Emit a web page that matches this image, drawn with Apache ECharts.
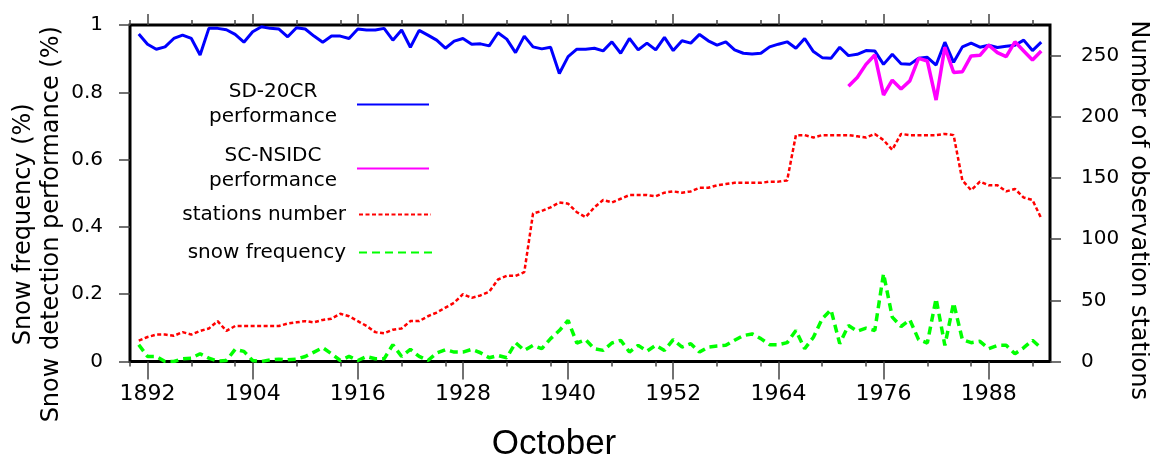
<!DOCTYPE html>
<html>
<head>
<meta charset="utf-8">
<script src="https://cdn.jsdelivr.net/npm/echarts@6/dist/echarts.min.js"></script>
<style>
html,body{margin:0;padding:0;background:#fff;}
#chart{width:1150px;height:459px;}
</style>
</head>
<body>
<div id="chart"></div>
<script>
// ---------- data ----------
const years = [1891,1892,1893,1894,1895,1896,1897,1898,1899,1900,
1901,1902,1903,1904,1905,1906,1907,1908,1909,1910,
1911,1912,1913,1914,1915,1916,1917,1918,1919,1920,
1921,1922,1923,1924,1925,1926,1927,1928,1929,1930,
1931,1932,1933,1934,1935,1936,1937,1938,1939,1940,
1941,1942,1943,1944,1945,1946,1947,1948,1949,1950,
1951,1952,1953,1954,1955,1956,1957,1958,1959,1960,
1961,1962,1963,1964,1965,1966,1967,1968,1969,1970,
1971,1972,1973,1974,1975,1976,1977,1978,1979,1980,
1981,1982,1983,1984,1985,1986,1987,1988,1989,1990,
1991,1992,1993,1994];

const sd20crPerformance = [0.973,0.943,0.928,0.935,0.960,0.970,0.960,0.911,0.990,0.990,
0.986,0.972,0.949,0.980,0.995,0.990,0.988,0.965,0.992,0.988,
0.967,0.949,0.967,0.967,0.960,0.988,0.985,0.985,0.990,0.955,
0.985,0.934,0.984,0.970,0.955,0.931,0.952,0.960,0.943,0.944,
0.938,0.977,0.958,0.918,0.967,0.935,0.929,0.934,0.856,0.906,
0.928,0.928,0.931,0.923,0.950,0.916,0.960,0.926,0.946,0.926,
0.963,0.924,0.953,0.946,0.972,0.953,0.940,0.950,0.926,0.916,
0.914,0.916,0.935,0.943,0.950,0.931,0.960,0.921,0.903,0.901,
0.934,0.909,0.913,0.924,0.923,0.883,0.913,0.885,0.883,0.901,
0.904,0.881,0.949,0.889,0.935,0.946,0.934,0.940,0.933,0.937,
0.940,0.955,0.924,0.949];

const scNsidcYears = [1972,1973,1974,1975,1976,1977,1978,1979,1980,1981,
1982,1983,1984,1985,1986,1987,1988,1989,1990,1991,1992,1993,1994];
const scNsidcPerformance = [0.818,0.844,0.883,0.911,0.792,0.836,0.810,0.834,0.901,0.893,
0.777,0.934,0.859,0.861,0.908,0.910,0.940,0.918,0.906,0.950,0.923,0.896,0.923];

const stationsNumber = [17,20,22,22,21,24,22,25,27,33,
25,29,29,29,29,29,29,31,32,33,
32,34,35,39,37,33,29,24,23,26,
27,33,33,37,40,44,48,55,52,54,
57,67,70,70,73,121,123,126,130,129,
122,118,126,132,130,133,136,136,136,135,
138,139,138,139,142,142,144,145,146,146,
146,146,147,147,148,185,185,183,185,185,
185,185,184,183,186,181,173,186,185,185,
185,185,186,185,148,140,147,144,144,139,
141,134,132,117];

const snowFrequency = [0.050,0.015,0.015,0.000,0.000,0.008,0.010,0.023,0.010,0.001,
0.003,0.036,0.030,0.003,0.000,0.005,0.007,0.005,0.007,0.015,
0.028,0.041,0.023,0.003,0.015,0.003,0.015,0.008,0.008,0.050,
0.015,0.036,0.015,0.003,0.025,0.035,0.028,0.028,0.036,0.026,
0.011,0.018,0.011,0.056,0.033,0.048,0.038,0.068,0.092,0.122,
0.055,0.065,0.038,0.033,0.055,0.063,0.028,0.048,0.031,0.048,
0.033,0.065,0.043,0.053,0.028,0.043,0.046,0.048,0.063,0.077,
0.082,0.068,0.050,0.050,0.056,0.092,0.038,0.072,0.127,0.154,
0.053,0.107,0.090,0.099,0.092,0.261,0.132,0.104,0.124,0.065,
0.055,0.187,0.048,0.174,0.065,0.056,0.060,0.038,0.048,0.048,
0.023,0.041,0.063,0.040];

const xMajorTicks = [1892,1904,1916,1928,1940,1952,1964,1976,1988];
const xMinorTicks = [1890,1897,1902,1909,1914,1921,1926,1933,1938,1945,1950,1957,1962,1969,1974,1981,1986,1993];
const rightTicks = [0,50,100,150,200,250];

const NAME_SD = 'SD-20CR\nperformance';
const NAME_SC = 'SC-NSIDC\nperformance';
const NAME_ST = 'stations number';
const NAME_SF = 'snow frequency';

// ---------- chart ----------
const chart = echarts.init(document.getElementById('chart'), null, {renderer:'canvas'});
const FONT = 'DejaVu Sans';
const TICK = '#444';

function pairs(xs, ys){ return xs.map((x,i)=>[x, ys[i]]); }

function twoLine(name){ return name.split('\n').map(s=>'{c|'+s+'}').join('\n'); }
function oneLine(name){ return '{s|'+name+'}'; }

function legendFor(name, top, right, width, twoLines){
  return {
    data:[name], orient:'vertical', align:'right', top:top, right:right,
    itemWidth:width, itemHeight:14, selectedMode:false,
    itemStyle:{color:'transparent', borderWidth:0, opacity:0},
    formatter: twoLines ? twoLine : oneLine,
    textStyle:{
      fontFamily:FONT, fontSize:20, color:'#000',
      rich:{
        c:{fontFamily:FONT, fontSize:20, color:'#000', width:158, align:'center', lineHeight:25},
        s:{fontFamily:FONT, fontSize:20, color:'#000', lineHeight:25, padding:[0,8,0,0]}
      }
    }
  };
}

function xAx(position, ticks, len, showLabel){
  const a = {
    type:'value', min:1890, max:1995, position:position,
    axisLine:{show:false}, splitLine:{show:false},
    axisTick:{show:true, customValues:ticks, length:len, inside:false, lineStyle:{color:TICK, width:1.5}},
    axisLabel:{show:false}
  };
  if (showLabel){
    a.axisLabel = {show:true, customValues:ticks, formatter:v=>String(v), fontFamily:FONT, fontSize:22, color:'#000', margin:22};
    a.name = 'October';
    a.nameLocation = 'middle';
    a.nameGap = 65;
    a.nameMoveOverlap = false;
    a.nameTextStyle = {fontFamily:'Liberation Sans', fontSize:35, color:'#000', padding:[0,72,0,0]};
  }
  return a;
}

const option = {
  animation:false,
  backgroundColor:'#ffffff',
  textStyle:{fontFamily:FONT},
  grid:{left:130, right:100, top:25, bottom:97.5, show:true, borderColor:'#000', borderWidth:3,
        backgroundColor:'transparent', containLabel:false, outerBoundsMode:'none'},
  legend:[
    legendFor(NAME_SD, 77, 715, 72, true),
    legendFor(NAME_SC, 141, 715, 72, true),
    legendFor(NAME_ST, 199.5, 713, 72, false),
    legendFor(NAME_SF, 237.5, 708, 77, false)
  ],
  xAxis:[
    xAx('bottom', xMajorTicks, 18, true),
    xAx('bottom', xMinorTicks, 5, false),
    xAx('top', xMajorTicks, 11, false),
    xAx('top', xMinorTicks, 5, false)
  ],
  yAxis:[
    {
      type:'value', min:0, max:1, interval:0.2, position:'left',
      axisLine:{show:false}, splitLine:{show:false},
      axisTick:{show:true, length:11, lineStyle:{color:TICK, width:1.5}},
      axisLabel:{fontFamily:FONT, fontSize:20, color:'#000', margin:27},
      name:'Snow frequency (%)\nSnow detection performance (%)',
      nameLocation:'middle', nameRotate:90, nameGap:64, nameMoveOverlap:false,
      nameTextStyle:{fontFamily:FONT, fontSize:24, lineHeight:28, color:'#000', padding:[0,62,0,0]}
    },
    {
      type:'value', min:0, max:275, position:'right',
      axisLine:{show:false}, splitLine:{show:false},
      axisTick:{show:true, customValues:rightTicks, length:11, lineStyle:{color:TICK, width:1.5}},
      axisLabel:{customValues:rightTicks, fontFamily:FONT, fontSize:20, color:'#000', margin:31},
      name:'Number of observation stations',
      nameLocation:'middle', nameRotate:-90, nameGap:76, nameMoveOverlap:false,
      nameTextStyle:{fontFamily:FONT, fontSize:24, color:'#000', padding:[0,0,0,34]}
    }
  ],
  series:[
    {
      name:NAME_ST, type:'line', xAxisIndex:0, yAxisIndex:1,
      data:pairs(years, stationsNumber), symbol:'none', showSymbol:false,
      lineStyle:{color:'#ff0000', width:2.5, type:[4,2.5]}, itemStyle:{color:'#ff0000'}
    },
    {
      name:NAME_SF, type:'line', xAxisIndex:0, yAxisIndex:0,
      data:pairs(years, snowFrequency), symbol:'none', showSymbol:false,
      lineStyle:{color:'#00ff00', width:3.5, type:[8,5]}, itemStyle:{color:'#00ff00'}
    },
    {
      name:NAME_SD, type:'line', xAxisIndex:0, yAxisIndex:0,
      data:pairs(years, sd20crPerformance), symbol:'none', showSymbol:false,
      lineStyle:{color:'#0000ff', width:3}, itemStyle:{color:'#0000ff'}
    },
    {
      name:NAME_SC, type:'line', xAxisIndex:0, yAxisIndex:0,
      data:pairs(scNsidcYears, scNsidcPerformance), symbol:'none', showSymbol:false,
      lineStyle:{color:'#ff00ff', width:3.5}, itemStyle:{color:'#ff00ff'}
    }
  ]
};
chart.setOption(option);
</script>
</body>
</html>
